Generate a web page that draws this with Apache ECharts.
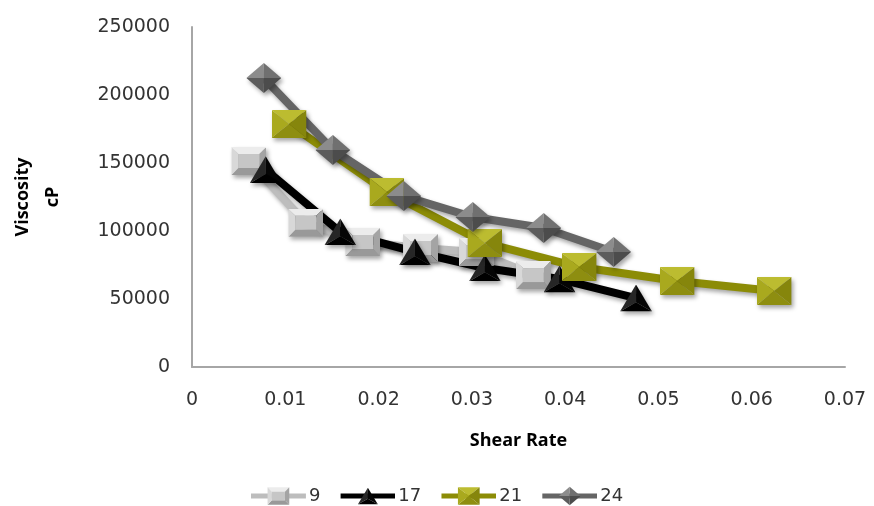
<!DOCTYPE html>
<html>
<head>
<meta charset="utf-8">
<style>
  html, body { margin: 0; padding: 0; background: #fff; }
  #chart { width: 874px; height: 506px; }
</style>
<script src="https://cdn.jsdelivr.net/npm/echarts@6/dist/echarts.min.js"></script>
</head>
<body>
<div id="chart"></div>
<script>
// Viscosity (cP) against shear rate for four samples
const seriesNames = ['9', '17', '21', '24'];

const shear9  = [0.0061, 0.0122, 0.0183, 0.0245, 0.0305, 0.0366];
const visc9   = [151500, 106000, 92000, 87500, 84500, 67600];

const shear17 = [0.0079, 0.0159, 0.0239, 0.0314, 0.0394, 0.0476];
const visc17  = [145000, 99300, 84600, 72800, 64700, 50700];

const shear21 = [0.0104, 0.0209, 0.0314, 0.0415, 0.0520, 0.0624];
const visc21  = [178700, 128700, 91200, 73500, 63200, 55900];

const shear24 = [0.0077, 0.0151, 0.0227, 0.0301, 0.0377, 0.0452];
const visc24  = [212500, 159600, 125700, 110300, 102200, 84600];

const xTicks = [0, 0.01, 0.02, 0.03, 0.04, 0.05, 0.06, 0.07];
const yTicks = [0, 50000, 100000, 150000, 200000, 250000];

// ---- Bevelled marker shapes (pyramid faces) as SVG fragments ----
function poly(pts, fill) {
  return '<polygon points="' + pts + '" fill="' + fill + '"/>';
}
function squareFrustum(w, h, inset, c) {
  const a = inset, b = w - inset, t = inset, u = h - inset;
  return poly(`0,0 ${w},0 ${b},${t} ${a},${t}`, c.top) +
    poly(`${w},0 ${w},${h} ${b},${u} ${b},${t}`, c.right) +
    poly(`${w},${h} 0,${h} ${a},${u} ${b},${u}`, c.bottom) +
    poly(`0,${h} 0,0 ${a},${t} ${a},${u}`, c.left) +
    poly(`${a},${t} ${b},${t} ${b},${u} ${a},${u}`, c.face);
}
function squarePyramid(w, h, c) {
  const cx = w / 2, cy = h / 2;
  return poly(`0,0 ${w},0 ${cx},${cy}`, c.top) +
    poly(`${w},0 ${w},${h} ${cx},${cy}`, c.right) +
    poly(`${w},${h} 0,${h} ${cx},${cy}`, c.bottom) +
    poly(`0,${h} 0,0 ${cx},${cy}`, c.left);
}
function diamondPyramid(w, h, c) {
  const cx = w / 2, cy = h / 2;
  return poly(`0,${cy} ${cx},0 ${cx},${cy}`, c.tl) +
    poly(`${cx},0 ${w},${cy} ${cx},${cy}`, c.tr) +
    poly(`${w},${cy} ${cx},${h} ${cx},${cy}`, c.br) +
    poly(`${cx},${h} 0,${cy} ${cx},${cy}`, c.bl);
}
function trianglePyramid(w, h, c) {
  const cx = w / 2, cy = h * 0.66;
  return poly(`${cx},0 0,${h} ${cx},${cy}`, c.left) +
    poly(`${cx},0 ${w},${h} ${cx},${cy}`, c.right) +
    poly(`0,${h} ${w},${h} ${cx},${cy}`, c.bottom);
}

function toImage(body, w, h) {
  const svg = '<svg xmlns="http://www.w3.org/2000/svg" width="' + w + '" height="' + h +
    '" viewBox="0 0 ' + w + ' ' + h + '">' + body + '</svg>';
  return 'image://data:image/svg+xml;charset=utf-8,' + encodeURIComponent(svg);
}

// Legend swatch: a short stroke of the series line with a reduced marker on it
const LEG_W = 55, LEG_H = 24;
function legendIcon(lineColor, shape) {
  const s = 0.62;
  const tx = (LEG_W - shape.w * s) / 2, ty = (LEG_H - shape.h * s) / 2;
  const body =
    '<line x1="0" y1="' + LEG_H / 2 + '" x2="' + LEG_W + '" y2="' + LEG_H / 2 +
    '" stroke="' + lineColor + '" stroke-width="5"/>' +
    '<g transform="translate(' + tx + ',' + ty + ') scale(' + s + ')">' + shape.body + '</g>';
  return toImage(body, LEG_W, LEG_H);
}

const shape9 = { w: 35, h: 28, body: squareFrustum(35, 28, 7, {
  top: '#ececec', left: '#d8d8d8', right: '#a4a4a4', bottom: '#999999', face: '#c6c6c6'
}) };
const shape17 = { w: 32, h: 27, body: trianglePyramid(32, 27, {
  left: '#262626', right: '#050505', bottom: '#000000'
}) };
const shape21 = { w: 35, h: 28, body: squarePyramid(35, 28, {
  top: '#bcbc30', left: '#a9a91e', right: '#86860c', bottom: '#8e8e10'
}) };
const shape24 = { w: 35, h: 30, body: diamondPyramid(35, 30, {
  tl: '#8c8c8c', tr: '#707070', br: '#4c4c4c', bl: '#5c5c5c'
}) };

const lineColors = ['#bdbdbd', '#000000', '#8c8c06', '#656565'];
const shapes = [shape9, shape17, shape21, shape24];

function pairs(xs, ys) { return xs.map((x, i) => [x, ys[i]]); }

const shadow = { shadowColor: 'rgba(0,0,0,0.35)', shadowBlur: 4, shadowOffsetX: 2, shadowOffsetY: 3 };

function lineSeries(idx, xs, ys) {
  const shape = shapes[idx];
  const color = lineColors[idx];
  return {
    name: seriesNames[idx],
    type: 'line',
    data: pairs(xs, ys),
    symbol: toImage(shape.body, shape.w, shape.h),
    symbolSize: [shape.w, shape.h],
    showSymbol: true,
    smooth: false,
    lineStyle: Object.assign({ color: color, width: 8 }, shadow),
    itemStyle: Object.assign({ color: color }, shadow),
    emphasis: { disabled: true },
    animation: false
  };
}

const chart = echarts.init(document.getElementById('chart'), null, { renderer: 'canvas' });

chart.setOption({
  backgroundColor: '#ffffff',
  animation: false,
  grid: { left: 188, right: 29, top: 27, bottom: 139, containLabel: false },
  xAxis: {
    type: 'value',
    min: xTicks[0],
    max: xTicks[xTicks.length - 1],
    interval: 0.01,
    name: 'Shear Rate',
    nameLocation: 'middle',
    nameGap: 65,
    nameTextStyle: { fontFamily: 'Open Sans', fontWeight: 'bold', fontSize: 18, color: '#000' },
    axisLine: { show: true, lineStyle: { color: '#a6a6a6', width: 2 } },
    axisTick: { show: false },
    splitLine: { show: false },
    axisLabel: {
      margin: 24,
      fontFamily: 'DejaVu Sans', fontSize: 19, color: '#333',
      formatter: v => {
        const t = xTicks.find(k => Math.abs(k - v) < 1e-9);
        return t === undefined ? '' : String(t);
      }
    }
  },
  yAxis: {
    type: 'value',
    min: yTicks[0],
    max: yTicks[yTicks.length - 1],
    interval: 50000,
    name: 'Viscosity\ncP',
    nameLocation: 'middle',
    nameRotate: 90,
    nameGap: 124,
    nameTextStyle: { fontFamily: 'Open Sans', fontWeight: 'bold', fontSize: 18, color: '#000', lineHeight: 30 },
    axisLine: { show: true, lineStyle: { color: '#a6a6a6', width: 2 } },
    axisTick: { show: false },
    splitLine: { show: false },
    axisLabel: {
      margin: 22,
      fontFamily: 'DejaVu Sans', fontSize: 19, color: '#333',
      formatter: v => String(v)
    }
  },
  legend: {
    data: seriesNames.map((n, i) => ({ name: n, icon: legendIcon(lineColors[i], shapes[i]) })),
    left: 'center',
    top: 479,
    itemWidth: LEG_W,
    itemHeight: LEG_H,
    itemGap: 20,
    textStyle: { fontFamily: 'DejaVu Sans', fontSize: 18, color: '#333', padding: [0, 0, 0, -2] },
    itemStyle: { shadowBlur: 0, shadowOffsetX: 0, shadowOffsetY: 0 }
  },
  series: [
    lineSeries(0, shear9, visc9),
    lineSeries(1, shear17, visc17),
    lineSeries(2, shear21, visc21),
    lineSeries(3, shear24, visc24)
  ]
});
</script>
</body>
</html>
